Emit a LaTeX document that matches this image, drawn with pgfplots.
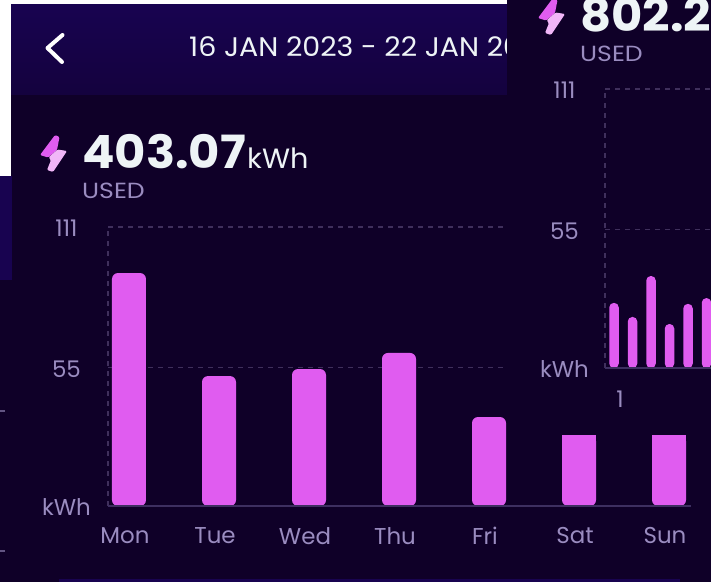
\documentclass[border=0pt]{standalone}
\usepackage{graphicx}
\usepackage{pgfplots}
\pgfplotsset{compat=1.18}
\usepackage{fontspec}
\setmainfont{Poppins}
\definecolor{cbg}{HTML}{0F0028}
\definecolor{chead}{HTML}{180350}
\definecolor{cheadb}{HTML}{14023E}
\definecolor{cbar}{HTML}{E05CF0}
\definecolor{clab}{HTML}{9A8CC0}
\definecolor{cdash}{HTML}{3F2F5C}
\definecolor{cbase}{HTML}{3D2F60}
\definecolor{cbig}{HTML}{EEF4F6}
\newcommand{\bolt}{%
  \fill[cbar,rounded corners=1.2bp] (55,-135)--(59.5,-137)--(57,-150)--(48,-157.5)--(40,-155)--cycle;
  \fill[cbar!45!white,rounded corners=1.2bp] (57.5,-149.5)--(67,-151)--(53,-172)--(47,-170)--(51,-160)--(48.5,-157.5)--cycle;
}
\pgfplotsset{
  chart/.style={
    scale only axis,
    axis line style={draw=none},
    major tick length=0pt,
    ymin=0,ymax=111,
    height=279bp,
    ytick={0,55,111},
    yticklabels={kWh,55,111},
    ymajorgrids,
    grid style={cdash,dash pattern=on 5bp off 5bp,line width=1.1bp},
    tick label style={font=\fontsize{23}{25}\selectfont,text=clab},
    yticklabel style={text width=60bp,align=center,anchor=east},
    clip=false,
  },
}
\begin{document}
\begin{tikzpicture}[x=1bp,y=1bp]
\useasboundingbox (0,0) rectangle (711,-582);
\begin{scope}
\clip (0,0) rectangle (711,-582);
\fill[cbg] (0,0) rectangle (711,-582);
% white corner and panels of the collage
\fill[white] (0,0) rectangle (507,-5);
\fill[white] (0,0) rectangle (11,-176);
\shade[top color=chead,bottom color=cheadb] (11,-5) rectangle (507,-95);
\fill[chead] (0,-176) rectangle (12,-280);
\fill[chead] (59,-579) rectangle (680,-582);
\fill[clab!60!cbg] (0,-410) rectangle (5,-411.5);
\fill[clab!60!cbg] (0,-550) rectangle (5,-551.5);
% header
\draw[white,line width=4bp,line cap=round,line join=round] (62.5,-35)--(47.5,-48)--(62,-62);
\node[anchor=base west,inner sep=0pt,text=cbig] at (189,-57) {\fontsize{27}{29}\selectfont\scalebox{1.06}[1]{16 JAN 2023 - 22 JAN 2023}};
% summary
\bolt
\node[anchor=base west,inner sep=0pt,text=cbig] at (82,-169) {\fontsize{46}{48}\selectfont\bfseries\scalebox{1.05}[1]{403.07}};
\node[anchor=base west,inner sep=0pt,text=cbig] at (247,-169) {\fontsize{28}{30}\selectfont\scalebox{1.03}[1]{kWh}};
\node[anchor=base west,inner sep=0pt,text=clab] at (82,-199) {\fontsize{22}{24}\selectfont\scalebox{1.15}[1]{USED}};
% main chart
\begin{axis}[chart,
  at={(108bp,-506bp)},anchor=south west,
  width=583bp,
  xmin=-0.2333,xmax=6.2444,
  xtick={0,...,6},
  xticklabels={Mon,Tue,Wed,Thu,Fri,Sat,Sun},
  xticklabel style={xshift=-4bp,yshift=-18bp},
  yticklabel style={xshift=-8bp,yshift=-1.5bp},
  ybar,
  bar width=34bp,
]
\addplot[draw=none,fill=cbar,rounded corners=6bp,bar shift=0pt] coordinates {(0,92.7)(1,51.7)(2,54.5)(3,60.9)(4,35.4)};
\addplot[draw=none,fill=cbar,rounded corners=6bp,bar shift=0pt,
  error bars/.cd,y dir=minus,y fixed=8,
  error mark=none,error bar style={line width=34bp,color=cbar}] coordinates {(5,28.2)(6,28.2)};
\draw[cdash,line width=1.1bp,dash pattern=on 5bp off 5bp] (axis cs:-0.2333,0)--(axis cs:-0.2333,111);
\draw[cbase,line width=1.4bp] (axis cs:-0.2333,0)--(axis cs:6.2444,0);
\end{axis}
% the second screenshot laid over the first
\fill[cbg] (507,0) rectangle (711,-435);
\begin{scope}[shift={(498,137)}]\bolt\end{scope}
\node[anchor=base west,inner sep=0pt,text=cbig] at (580,-32) {\fontsize{46}{48}\selectfont\bfseries\scalebox{1.05}[1]{802.2}};
\node[anchor=base west,inner sep=0pt,text=clab] at (580,-62) {\fontsize{22}{24}\selectfont\scalebox{1.15}[1]{USED}};
\begin{axis}[chart,
  at={(605bp,-368bp)},anchor=south west,
  width=106bp,
  xmin=0.5135,xmax=6.2432,
  xtick={1},
  xticklabels={1},
  xticklabel style={xshift=6bp,yshift=-19bp},
  yticklabel style={xshift=-7bp,yshift=-1.5bp},
  ybar,
  bar width=9.5bp,
]
\addplot[draw=none,fill=cbar,rounded corners=4.5bp,bar shift=0pt] coordinates {(1,25.9)(2,20.3)(3,36.6)(4,17.5)(5,25.5)(6,27.8)};
\draw[cdash,line width=1.1bp,dash pattern=on 5bp off 5bp] (axis cs:0.5135,0)--(axis cs:0.5135,111);
\draw[cbase,line width=1.2bp] (axis cs:0.5135,0)--(axis cs:6.2432,0);
\end{axis}
\end{scope}
\end{tikzpicture}
\end{document}
